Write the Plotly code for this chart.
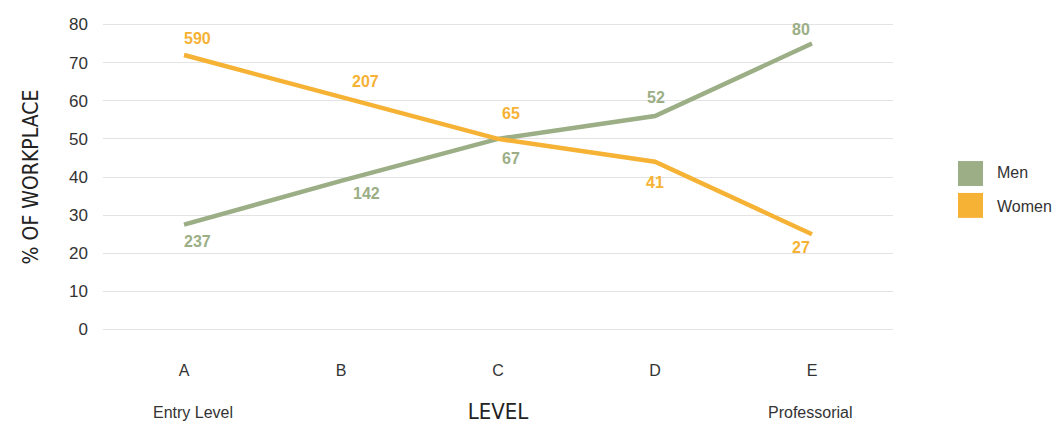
import plotly.graph_objects as go

categories = ["A", "B", "C", "D", "E"]
men_pct = [27.5, 39, 50, 56, 75]
women_pct = [72, 61, 50, 44, 25]
men_counts = [237, 142, 67, 52, 80]
women_counts = [590, 207, 65, 41, 27]
y_ticks = [0, 10, 20, 30, 40, 50, 60, 70, 80]

GREEN = "#9BAE86"
ORANGE = "#F6B234"
GRID = "#E3E3E3"
LABEL_FONT = "Liberation Sans, Arial, Helvetica, sans-serif"
COND_FONT = "Liberation Sans Narrow, Arial Narrow, DejaVu Sans Condensed, sans-serif"

# label offsets in px (xshift, yshift)
men_off = [(13, -17), (25, -13), (13, -20), (1, 19), (-11, 14)]
women_off = [(13, 17), (24, 15), (13, 25), (0, -21), (-11, -13)]

fig = go.Figure()
fig.add_trace(go.Scatter(x=categories, y=men_pct, mode="lines", name="Men",
                         line=dict(color=GREEN, width=4.5), showlegend=False,
                         hoverinfo="skip"))
fig.add_trace(go.Scatter(x=categories, y=women_pct, mode="lines", name="Women",
                         line=dict(color=ORANGE, width=4.5), showlegend=False,
                         hoverinfo="skip"))

annotations = []
for cat, v, c, (dx, dy) in zip(categories, men_pct, men_counts, men_off):
    annotations.append(dict(x=cat, y=v, xref="x", yref="y", text=str(c), showarrow=False,
                            xshift=dx, yshift=dy,
                            font=dict(family=LABEL_FONT, size=16, color=GREEN, weight="bold")))
for cat, v, c, (dx, dy) in zip(categories, women_pct, women_counts, women_off):
    annotations.append(dict(x=cat, y=v, xref="x", yref="y", text=str(c), showarrow=False,
                            xshift=dx, yshift=dy,
                            font=dict(family=LABEL_FONT, size=16, color=ORANGE, weight="bold")))

# bottom descriptors
W, H = 1060, 424
L, R, T, B = 103, 167, 22.5, 92.5
pw, ph = W - L - R, H - T - B


def px_to_paper(px, py):
    return (px - L) / pw, (H - B - py) / ph


for cat, txt, dx in [("A", "Entry Level", 9), ("E", "Professorial", -2)]:
    annotations.append(dict(x=cat, y=px_to_paper(0, 413)[1], xref="x", yref="paper",
                            text=txt, showarrow=False, xshift=dx, yanchor="middle",
                            font=dict(family=LABEL_FONT, size=16, color="#333333")))

# manual legend
shapes = []
legend_items = [("Men", GREEN, 161, 186, 172), ("Women", ORANGE, 193, 218, 207)]
for name, col, y0, y1, ty in legend_items:
    x0p, y0p = px_to_paper(958, y1)
    x1p, y1p = px_to_paper(983, y0)
    shapes.append(dict(type="rect", xref="paper", yref="paper", x0=x0p, x1=x1p,
                       y0=y0p, y1=y1p, fillcolor=col, line=dict(width=0)))
    tx, typ = px_to_paper(995, ty)
    annotations.append(dict(x=tx, y=typ, xref="paper", yref="paper", text=name,
                            showarrow=False, xanchor="left", yanchor="middle",
                            font=dict(family=LABEL_FONT, size=16, color="#333333")))

# boundary gridlines (top and bottom tick values)
for v in (y_ticks[0], y_ticks[-1]):
    shapes.append(dict(type="line", xref="paper", yref="y", x0=0, x1=1, y0=v, y1=v,
                       line=dict(color=GRID, width=1), layer="below"))

fig.update_layout(
    width=W, height=H,
    margin=dict(l=L, r=R, t=T, b=B, autoexpand=False),
    paper_bgcolor="white", plot_bgcolor="white",
    annotations=annotations, shapes=shapes,
    showlegend=False,
    xaxis=dict(
        type="category", range=[-0.516, 4.516], showgrid=False, zeroline=False,
        showline=False, ticks="", ticklabelstandoff=28, automargin=False,
        tickfont=dict(family=LABEL_FONT, size=16, color="#333333"),
        title=dict(text="LEVEL", standoff=33,
                   font=dict(family=COND_FONT, size=22, color="#222222")),
    ),
    yaxis=dict(
        range=[-0.4, 80.4], tickvals=y_ticks, showgrid=True, gridcolor=GRID,
        gridwidth=1, zeroline=False, showline=False, ticks="", ticklabelstandoff=14,
        automargin=False,
        tickfont=dict(family=LABEL_FONT, size=17, color="#333333"),
        title=dict(text="% OF WORKPLACE", standoff=24,
                   font=dict(family=COND_FONT, size=21, color="#222222")),
    ),
)

fig.write_html("out.html")
